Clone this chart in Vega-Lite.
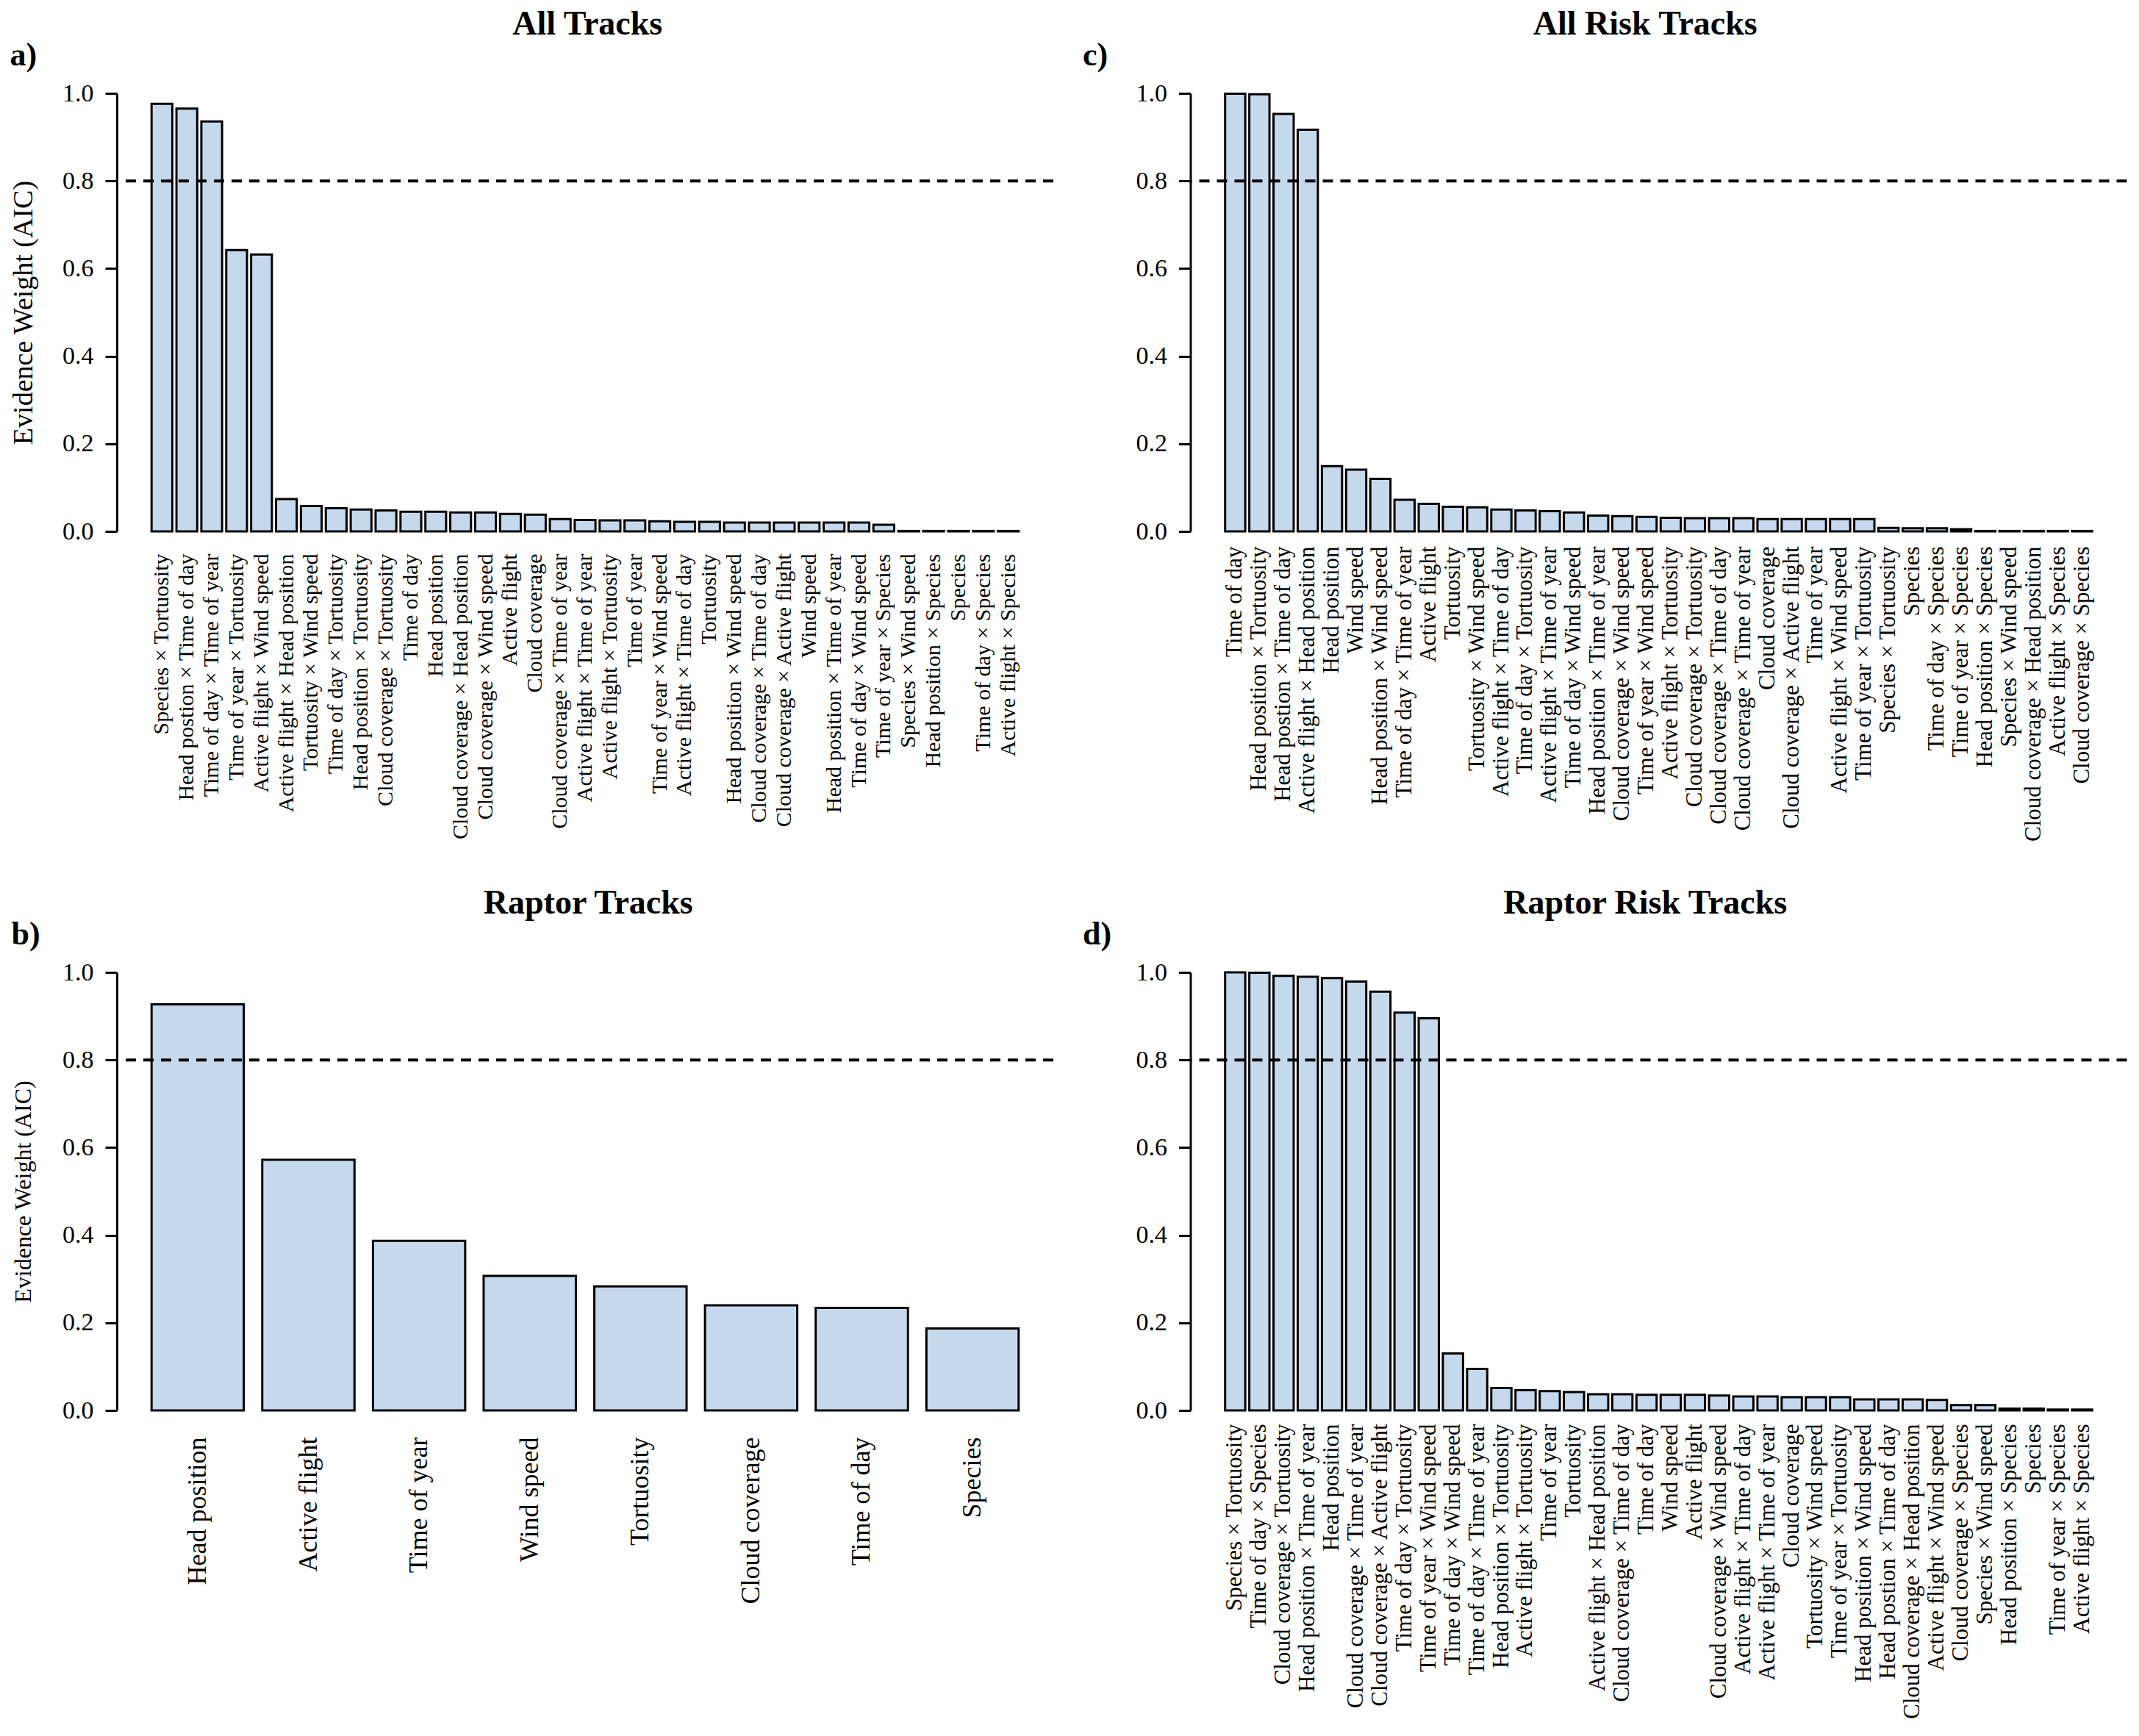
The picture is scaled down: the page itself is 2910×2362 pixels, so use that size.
{
  "$schema": "https://vega.github.io/schema/vega-lite/v6.json",
  "background": "white",
  "padding": {"left": 13, "top": 10, "right": 5, "bottom": 5},
  "config": {
    "font": "Liberation Serif",
    "view": {"stroke": null},
    "axis": {"labelColor": "black", "titleColor": "black", "domainColor": "black", "tickColor": "black", "grid": false, "labelFont": "Liberation Serif", "titleFont": "Liberation Serif"},
    "title": {"color": "black", "font": "Liberation Serif", "fontWeight": "bold"}
  },
  "datasets": {
    "allTracks": [
      {"term": "Species × Tortuosity", "weight": 0.976},
      {"term": "Head postion × Time of day", "weight": 0.965},
      {"term": "Time of day × Time of year", "weight": 0.936},
      {"term": "Time of year × Tortuosity", "weight": 0.642},
      {"term": "Active flight × Wind speed", "weight": 0.632},
      {"term": "Active flight × Head position", "weight": 0.074},
      {"term": "Tortuosity × Wind speed", "weight": 0.058},
      {"term": "Time of day × Tortuosity", "weight": 0.053},
      {"term": "Head position × Tortuosity", "weight": 0.050},
      {"term": "Cloud coverage × Tortuosity", "weight": 0.048},
      {"term": "Time of day", "weight": 0.045},
      {"term": "Head position", "weight": 0.045},
      {"term": "Cloud coverage × Head position", "weight": 0.043},
      {"term": "Cloud coverage × Wind speed", "weight": 0.043},
      {"term": "Active flight", "weight": 0.040},
      {"term": "Cloud coverage", "weight": 0.038},
      {"term": "Cloud coverage × Time of year", "weight": 0.028},
      {"term": "Active flight × Time of year", "weight": 0.026},
      {"term": "Active flight × Tortuosity", "weight": 0.025},
      {"term": "Time of year", "weight": 0.025},
      {"term": "Time of year × Wind speed", "weight": 0.023},
      {"term": "Active flight × Time of day", "weight": 0.022},
      {"term": "Tortuosity", "weight": 0.022},
      {"term": "Head position × Wind speed", "weight": 0.020},
      {"term": "Cloud coverage × Time of day", "weight": 0.020},
      {"term": "Cloud coverage × Active flight", "weight": 0.020},
      {"term": "Wind speed", "weight": 0.020},
      {"term": "Head position × Time of year", "weight": 0.020},
      {"term": "Time of day × Wind speed", "weight": 0.020},
      {"term": "Time of year × Species", "weight": 0.015},
      {"term": "Species × Wind speed", "weight": 0.001},
      {"term": "Head position × Species", "weight": 0.001},
      {"term": "Species", "weight": 0.001},
      {"term": "Time of day × Species", "weight": 0.001},
      {"term": "Active flight × Species", "weight": 0.001}
    ],
    "allRisk": [
      {"term": "Time of day", "weight": 0.999},
      {"term": "Head position × Tortuosity", "weight": 0.998},
      {"term": "Head postion × Time of day", "weight": 0.953},
      {"term": "Active flight × Head position", "weight": 0.917},
      {"term": "Head position", "weight": 0.149},
      {"term": "Wind speed", "weight": 0.141},
      {"term": "Head position × Wind speed", "weight": 0.120},
      {"term": "Time of day × Time of year", "weight": 0.072},
      {"term": "Active flight", "weight": 0.063},
      {"term": "Tortuosity", "weight": 0.056},
      {"term": "Tortuosity × Wind speed", "weight": 0.055},
      {"term": "Active flight × Time of day", "weight": 0.050},
      {"term": "Time of day × Tortuosity", "weight": 0.048},
      {"term": "Active flight × Time of year", "weight": 0.046},
      {"term": "Time of day × Wind speed", "weight": 0.043},
      {"term": "Head position × Time of year", "weight": 0.036},
      {"term": "Cloud coverage × Wind speed", "weight": 0.035},
      {"term": "Time of year × Wind speed", "weight": 0.033},
      {"term": "Active flight × Tortuosity", "weight": 0.031},
      {"term": "Cloud coverage × Tortuosity", "weight": 0.030},
      {"term": "Cloud coverage × Time of day", "weight": 0.030},
      {"term": "Cloud coverage × Time of year", "weight": 0.030},
      {"term": "Cloud coverage", "weight": 0.028},
      {"term": "Cloud coverage × Active flight", "weight": 0.028},
      {"term": "Time of year", "weight": 0.028},
      {"term": "Active flight × Wind speed", "weight": 0.028},
      {"term": "Time of year × Tortuosity", "weight": 0.028},
      {"term": "Species × Tortuosity", "weight": 0.008},
      {"term": "Species", "weight": 0.007},
      {"term": "Time of day × Species", "weight": 0.007},
      {"term": "Time of year × Species", "weight": 0.005},
      {"term": "Head position × Species", "weight": 0.001},
      {"term": "Species × Wind speed", "weight": 0.001},
      {"term": "Cloud coverage × Head position", "weight": 0.001},
      {"term": "Active flight × Species", "weight": 0.001},
      {"term": "Cloud coverage × Species", "weight": 0.001}
    ],
    "raptor": [
      {"term": "Head position", "weight": 0.927},
      {"term": "Active flight", "weight": 0.572},
      {"term": "Time of year", "weight": 0.387},
      {"term": "Wind speed", "weight": 0.307},
      {"term": "Tortuosity", "weight": 0.283},
      {"term": "Cloud coverage", "weight": 0.240},
      {"term": "Time of day", "weight": 0.234},
      {"term": "Species", "weight": 0.187}
    ],
    "raptorRisk": [
      {"term": "Species × Tortuosity", "weight": 1.0},
      {"term": "Time of day × Species", "weight": 0.999},
      {"term": "Cloud coverage × Tortuosity", "weight": 0.992},
      {"term": "Head position × Time of year", "weight": 0.990},
      {"term": "Head position", "weight": 0.987},
      {"term": "Cloud coverage × Time of year", "weight": 0.979},
      {"term": "Cloud coverage × Active flight", "weight": 0.956},
      {"term": "Time of day × Tortuosity", "weight": 0.908},
      {"term": "Time of year × Wind speed", "weight": 0.895},
      {"term": "Time of day × Wind speed", "weight": 0.130},
      {"term": "Time of day × Time of year", "weight": 0.095},
      {"term": "Head position × Tortuosity", "weight": 0.051},
      {"term": "Active flight × Tortuosity", "weight": 0.046},
      {"term": "Time of year", "weight": 0.044},
      {"term": "Tortuosity", "weight": 0.042},
      {"term": "Active flight × Head position", "weight": 0.037},
      {"term": "Cloud coverage × Time of day", "weight": 0.037},
      {"term": "Time of day", "weight": 0.0355},
      {"term": "Wind speed", "weight": 0.0355},
      {"term": "Active flight", "weight": 0.0355},
      {"term": "Cloud coverage × Wind speed", "weight": 0.034},
      {"term": "Active flight × Time of day", "weight": 0.032},
      {"term": "Active flight × Time of year", "weight": 0.032},
      {"term": "Cloud coverage", "weight": 0.030},
      {"term": "Tortuosity × Wind speed", "weight": 0.030},
      {"term": "Time of year × Tortuosity", "weight": 0.030},
      {"term": "Head position × Wind speed", "weight": 0.025},
      {"term": "Head postion × Time of day", "weight": 0.025},
      {"term": "Cloud coverage × Head position", "weight": 0.025},
      {"term": "Active flight × Wind speed", "weight": 0.024},
      {"term": "Cloud coverage × Species", "weight": 0.012},
      {"term": "Species × Wind speed", "weight": 0.012},
      {"term": "Head position × Species", "weight": 0.004},
      {"term": "Species", "weight": 0.004},
      {"term": "Time of year × Species", "weight": 0.002},
      {"term": "Active flight × Species", "weight": 0.002}
    ],
    "threshold": [{"threshold": 0.8}]
  },
  "vconcat": [
    {
      "hconcat": [
        {
          "title": {"text": "All Tracks", "fontSize": 46, "anchor": "middle", "offset": -3, "dx": 75},
          "vconcat": [
            {
              "title": {"text": "a)", "fontSize": 44, "anchor": "start", "offset": 12},
              "width": 1274,
              "height": 596,
              "layer": [
                {
                  "data": {"name": "allTracks"},
                  "mark": {"type": "bar", "fill": "#c6d9ec", "stroke": "black", "strokeWidth": 3},
                  "encoding": {
                    "x": {"field": "term", "type": "nominal", "sort": null,
                      "scale": {"range": [47.2, 1226.8], "paddingInner": 0.16667, "paddingOuter": 0},
                      "axis": {"title": null, "domain": false, "ticks": false, "tickSize": 0, "labelAngle": -90, "labelFontSize": 30, "labelPadding": 30, "labelLimit": 1000, "labelOverlap": false}},
                    "y": {"field": "weight", "type": "quantitative",
                      "scale": {"domain": [0, 1], "nice": false},
                      "axis": {"title": "Evidence Weight (AIC)", "titleFontSize": 38, "titleFontWeight": "normal", "titlePadding": 33, "values": [0, 0.2, 0.4, 0.6, 0.8, 1], "format": ".1f", "labelFontSize": 34, "labelPadding": 16, "tickSize": 16, "tickWidth": 3, "domainWidth": 3}}
                  }
                },
                {
                  "data": {"name": "threshold"},
                  "mark": {"type": "rule", "color": "black", "strokeWidth": 4, "strokeDash": [14, 10]},
                  "encoding": {"y": {"field": "threshold", "type": "quantitative"}}
                }
              ]
            }
          ]
        },
        {
          "title": {"text": "All Risk Tracks", "fontSize": 46, "anchor": "middle", "offset": -3, "dx": 54},
          "vconcat": [
            {
              "title": {"text": "c)", "fontSize": 44, "anchor": "start", "offset": 12, "dx": -72},
              "width": 1274,
              "height": 596,
              "layer": [
                {
                  "data": {"name": "allRisk"},
                  "mark": {"type": "bar", "fill": "#c6d9ec", "stroke": "black", "strokeWidth": 3},
                  "encoding": {
                    "x": {"field": "term", "type": "nominal", "sort": null,
                      "scale": {"range": [47.2, 1226.8], "paddingInner": 0.16667, "paddingOuter": 0},
                      "axis": {"title": null, "domain": false, "ticks": false, "tickSize": 0, "labelAngle": -90, "labelFontSize": 31, "labelPadding": 20, "labelLimit": 1000, "labelOverlap": false}},
                    "y": {"field": "weight", "type": "quantitative",
                      "scale": {"domain": [0, 1], "nice": false},
                      "axis": {"title": null, "values": [0, 0.2, 0.4, 0.6, 0.8, 1], "format": ".1f", "labelFontSize": 34, "labelPadding": 16, "tickSize": 16, "tickWidth": 3, "domainWidth": 3}}
                  }
                },
                {
                  "data": {"name": "threshold"},
                  "mark": {"type": "rule", "color": "black", "strokeWidth": 4, "strokeDash": [14, 10]},
                  "encoding": {"y": {"field": "threshold", "type": "quantitative"}}
                }
              ]
            }
          ]
        }
      ],
      "spacing": 37.5
    },
    {
      "hconcat": [
        {
          "title": {"text": "Raptor Tracks", "fontSize": 46, "anchor": "middle", "offset": -3, "dx": 75},
          "vconcat": [
            {
              "title": {"text": "b)", "fontSize": 44, "anchor": "start", "offset": 12},
              "width": 1274,
              "height": 596,
              "layer": [
                {
                  "data": {"name": "raptor"},
                  "mark": {"type": "bar", "fill": "#c6d9ec", "stroke": "black", "strokeWidth": 3},
                  "encoding": {
                    "x": {"field": "term", "type": "nominal", "sort": null,
                      "scale": {"range": [47.2, 1226.8], "paddingInner": 0.16667, "paddingOuter": 0},
                      "axis": {"title": null, "domain": false, "ticks": false, "tickSize": 0, "labelAngle": -90, "labelFontSize": 36, "labelPadding": 36, "labelLimit": 1000, "labelOverlap": false}},
                    "y": {"field": "weight", "type": "quantitative",
                      "scale": {"domain": [0, 1], "nice": false},
                      "axis": {"title": "Evidence Weight (AIC)", "titleFontSize": 32, "titleFontWeight": "normal", "titlePadding": 36, "values": [0, 0.2, 0.4, 0.6, 0.8, 1], "format": ".1f", "labelFontSize": 34, "labelPadding": 16, "tickSize": 16, "tickWidth": 3, "domainWidth": 3}}
                  }
                },
                {
                  "data": {"name": "threshold"},
                  "mark": {"type": "rule", "color": "black", "strokeWidth": 4, "strokeDash": [14, 10]},
                  "encoding": {"y": {"field": "threshold", "type": "quantitative"}}
                }
              ]
            }
          ]
        },
        {
          "title": {"text": "Raptor Risk Tracks", "fontSize": 46, "anchor": "middle", "offset": -3, "dx": 54},
          "vconcat": [
            {
              "title": {"text": "d)", "fontSize": 44, "anchor": "start", "offset": 12, "dx": -72},
              "width": 1274,
              "height": 596,
              "layer": [
                {
                  "data": {"name": "raptorRisk"},
                  "mark": {"type": "bar", "fill": "#c6d9ec", "stroke": "black", "strokeWidth": 3},
                  "encoding": {
                    "x": {"field": "term", "type": "nominal", "sort": null,
                      "scale": {"range": [47.2, 1226.8], "paddingInner": 0.16667, "paddingOuter": 0},
                      "axis": {"title": null, "domain": false, "ticks": false, "tickSize": 0, "labelAngle": -90, "labelFontSize": 31, "labelPadding": 18, "labelLimit": 1000, "labelOverlap": false}},
                    "y": {"field": "weight", "type": "quantitative",
                      "scale": {"domain": [0, 1], "nice": false},
                      "axis": {"title": null, "values": [0, 0.2, 0.4, 0.6, 0.8, 1], "format": ".1f", "labelFontSize": 34, "labelPadding": 16, "tickSize": 16, "tickWidth": 3, "domainWidth": 3}}
                  }
                },
                {
                  "data": {"name": "threshold"},
                  "mark": {"type": "rule", "color": "black", "strokeWidth": 4, "strokeDash": [14, 10]},
                  "encoding": {"y": {"field": "threshold", "type": "quantitative"}}
                }
              ]
            }
          ]
        }
      ],
      "spacing": 37.5
    }
  ],
  "spacing": 61
}
